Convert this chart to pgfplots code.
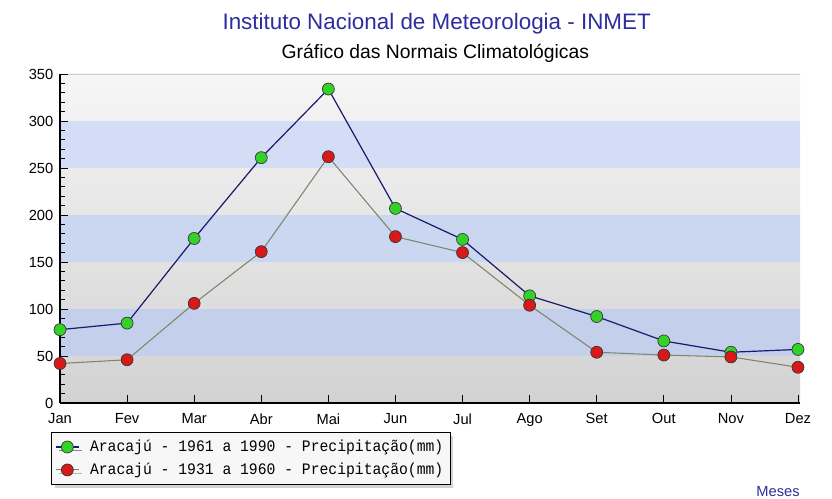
\documentclass[border=0pt]{standalone}
\usepackage{fontspec}
\setmainfont{Liberation Sans}
\newfontfamily\legfont{Liberation Mono}[FakeStretch=0.92]
\usepackage{pgfplots}
\pgfplotsset{compat=1.18}
\usetikzlibrary{shadows,calc}
\definecolor{titleblue}{RGB}{45,45,160}
\definecolor{bandA}{RGB}{196,207,236}
\definecolor{bandB}{RGB}{203,214,241}
\definecolor{bandC}{RGB}{211,221,246}
\definecolor{gbot}{RGB}{210,210,210}
\definecolor{gtop}{RGB}{246,246,246}
\definecolor{navyline}{RGB}{25,25,110}
\definecolor{oliveline}{RGB}{125,135,105}
\definecolor{mgreen}{RGB}{50,210,40}
\definecolor{mred}{RGB}{215,25,25}
\begin{document}
\begin{tikzpicture}
\useasboundingbox[fill=white] (0pt,0pt) rectangle (624pt,374.25pt);
\node[font=\fontsize{16.8}{18}\selectfont, text=titleblue, anchor=base] at (327.5pt,351.75pt) {Instituto Nacional de Meteorologia - INMET};
\node[font=\fontsize{14.5}{16}\selectfont, anchor=base] at (326.5pt,330pt) {Gráfico das Normais Climatológicas};
\node[font=\fontsize{11}{12}\selectfont, text=titleblue, anchor=base] at (583.5pt,1.8pt) {Meses};
\begin{axis}[
  at={(45pt,72pt)}, anchor=south west, scale only axis,
  width=555pt, height=246.75pt,
  xmin=0, xmax=11.03, ymin=0, ymax=350,
  axis x line*=bottom, axis y line*=left,
  axis line style={black, line width=1pt},
  xtick={0,...,11},
  xticklabels={Jan,Fev,Mar,Abr,Mai,Jun,Jul,Ago,Set,Out,Nov,Dez},
  ytick={0,50,...,350},
  minor y tick num=4,
  tick align=inside,
  major tick length=6pt, minor tick length=3.5pt,
  tick style={black, line width=0.6pt},
  /pgf/number format/assume math mode=true,
  tick label style={font=\fontsize{11}{12}\selectfont},
  xticklabel style={yshift=-4.5pt},
  yticklabel style={xshift=-1.5pt},
  axis background/.style={fill=gbot, path picture={
    \fill[top color=gtop, bottom color=gbot] (path picture bounding box.south west) rectangle (path picture bounding box.north east);
    \foreach \a/\b/\c in {1/2/bandA,3/4/bandB,5/6/bandC}{
      \fill[\c] ($(path picture bounding box.south west)!\a/7!(path picture bounding box.north west)$) rectangle ($(path picture bounding box.south east)!\b/7!(path picture bounding box.north east)$);
    }
    \draw[gray!40] (path picture bounding box.north west) -- (path picture bounding box.north east);
  }},
  legend style={at={(-0.012,-0.088)}, anchor=north west,
    font=\legfont\fontsize{12}{13}\selectfont, draw=black, fill=white!94!gray,
    drop shadow={shadow xshift=2.5pt, shadow yshift=-2.5pt, fill=gray!70},
    row sep=3pt, column sep=6pt, inner ysep=4pt, inner xsep=3pt},
  legend cell align=left,
  clip=false,
]
\addplot[navyline, line width=0.9pt, mark=*, mark size=4.5pt,
  mark options={fill=mgreen, draw=black!80, line width=0.5pt}]
  coordinates {(0,78) (1,85) (2,175) (3,261) (4,334) (5,207) (6,174) (7,114) (8,92) (9,66) (10,54) (11,57)};
\addlegendentry{Aracajú - 1961 a 1990 - Precipitação(mm)}
\addplot[oliveline, line width=0.8pt, mark=*, mark size=4.5pt,
  mark options={fill=mred, draw=black!80, line width=0.5pt}]
  coordinates {(0,42) (1,46) (2,106) (3,161) (4,262) (5,177) (6,160) (7,104) (8,54) (9,51) (10,49) (11,38)};
\addlegendentry{Aracajú - 1931 a 1960 - Precipitação(mm)}
\end{axis}
\end{tikzpicture}
\end{document}
